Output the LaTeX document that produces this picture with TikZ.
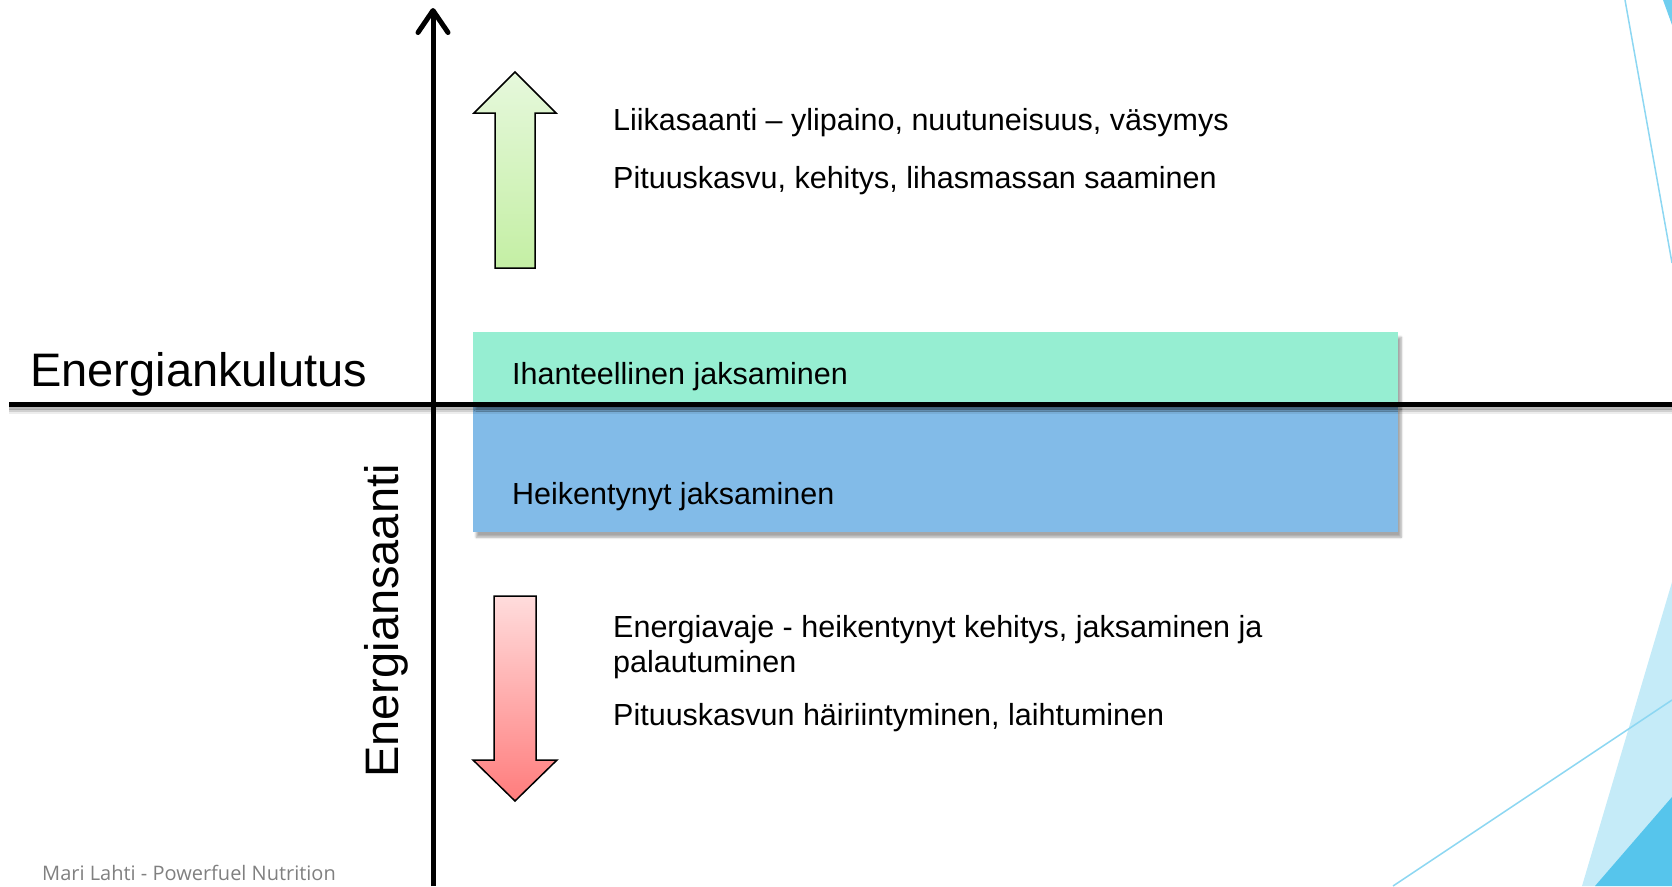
\documentclass[tikz,border=0pt]{standalone}
\usepackage{fontspec}
\setmainfont{Liberation Sans}
\newfontfamily\footfont{Open Sans}
\usetikzlibrary{arrows.meta,shadows.blur}

\definecolor{idealgreen}{HTML}{96EED2}
\definecolor{weakblue}{HTML}{82BBE8}
\definecolor{decolight}{HTML}{C5EBF8}
\definecolor{decodark}{HTML}{56C5EC}
\definecolor{decoline}{HTML}{8DD7F2}
\definecolor{uptop}{HTML}{E6F8DC}
\definecolor{upbottom}{HTML}{C4EFA4}
\definecolor{downtop}{HTML}{FFDCDC}
\definecolor{downbottom}{HTML}{FF7C7C}

\tikzset{
  bodytext/.style={anchor=base west,inner sep=0pt,font=\fontsize{30.5}{35}\selectfont},
  axistext/.style={anchor=base west,inner sep=0pt,font=\fontsize{47}{52}\selectfont},
  band/.style={draw=none,inner sep=0pt,minimum width=925pt,anchor=north west,
    blur shadow={shadow xshift=3pt,shadow yshift=-5pt,shadow blur steps=8,shadow opacity=35}},
  axisline/.style={line width=5pt},
  blockarrow/.style={draw=black,line width=1.5pt,line join=miter},
}

\begin{document}
\begin{tikzpicture}[x=1pt,y=-1pt]
\useasboundingbox (0,0) rectangle (1672,886);

% corner decorations
\fill[decolight] (1582,886) -- (1672,582) -- (1672,886) -- cycle;
\fill[decodark] (1595,886) -- (1672,797) -- (1672,886) -- cycle;
\fill[decodark!85] (1663,0) -- (1672,0) -- (1672,25) -- cycle;
\draw[decoline,line width=1.5pt] (1625,0) -- (1672,263);
\draw[decoline,line width=1.5pt] (1393,886) -- (1672,700);

% bands
\node[band,fill=weakblue,minimum height=128pt] (weak) at (473,404) {};
\node[band,fill=idealgreen,minimum height=72pt] (ideal) at (473,332) {};
\node[bodytext] (idealtext) at (512,384) {Ihanteellinen jaksaminen};
\node[bodytext] (weaktext) at (512,504) {Heikentynyt jaksaminen};

% axes
\coordinate (xstart) at (9,404);
\coordinate (xend) at (1672,404);
\coordinate (ystart) at (433,886);
\coordinate (yend) at (433,8);
\foreach \s/\o in {3/.18,5/.12,7/.07}
  \draw[axisline,black,opacity=\o] ([yshift=-\s pt]xstart) -- ([yshift=-\s pt]xend);
\draw[axisline] (xstart) -- (xend);
\draw[axisline,-{Straight Barb[length=22pt,width=30pt,round]}] (ystart) -- (yend);
\node[axistext] (consumption) at (30,386) {Energiankulutus};
\node[axistext,rotate=90] (intake) at (398,778) {Energiansaanti};

% block arrows
\shade[blockarrow,top color=uptop,bottom color=upbottom]
  (515,72) -- (556,113) -- (535,113) -- (535,268) -- (495,268) -- (495,113) -- (474,113) -- cycle;
\shade[blockarrow,top color=downtop,bottom color=downbottom]
  (494,596) -- (536,596) -- (536,760) -- (557,760) -- (515,801) -- (473,760) -- (494,760) -- cycle;

% texts
\node[bodytext] (excess) at (613,130) {Liikasaanti – ylipaino, nuutuneisuus, väsymys};
\node[bodytext] (growth) at (613,188) {Pituuskasvu, kehitys, lihasmassan saaminen};
\node[bodytext] (deficit) at (613,637) {Energiavaje - heikentynyt kehitys, jaksaminen ja};
\node[bodytext] (deficitb) at (613,672) {palautuminen};
\node[bodytext] (disturb) at (613,725) {Pituuskasvun häiriintyminen, laihtuminen};

\node[anchor=base west,inner sep=0pt,text=black!50,font=\footfont\fontsize{20}{22}\selectfont] (author) at (42,880) {Mari Lahti - Powerfuel Nutrition};
\end{tikzpicture}
\end{document}
